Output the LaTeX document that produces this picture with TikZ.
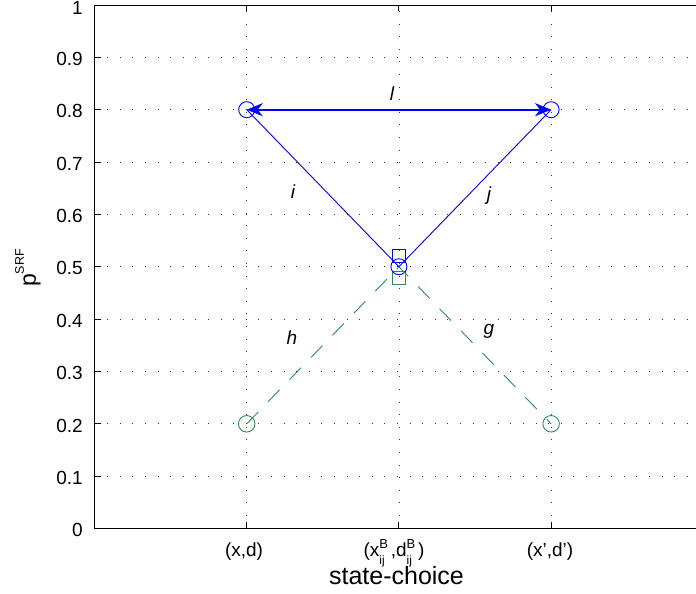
\documentclass[tikz,border=0pt]{standalone}
\usepackage{fontspec}
\setmainfont{Liberation Sans}
\usetikzlibrary{arrows.meta}
\definecolor{mblue}{rgb}{0,0,1}
\definecolor{mgreen}{RGB}{46,139,87}
\newcommand\ssb{\makebox[0pt][l]{\raisebox{8.5pt}{\fontsize{13}{13}\selectfont B}}\raisebox{-7.5pt}{\fontsize{12}{12}\selectfont ij}\hspace{6pt}}
\begin{document}
\begin{tikzpicture}[x=152.2pt,y=523.5pt,
  gridline/.style={line width=0.7pt, dash pattern=on 0.9pt off 11.7pt, black!80},
  axisline/.style={line width=0.9pt, black},
  ticklab/.style={font=\fontsize{19}{22}\selectfont, inner sep=0pt},
  edgelab/.style={font=\fontsize{19}{22}\selectfont\itshape, inner sep=0pt, anchor=base},
  bline/.style={mblue, line width=0.9pt},
  barrow/.style={mblue, line width=2pt, {Stealth[length=16pt,width=13pt,inset=5pt]}-{Stealth[length=16pt,width=13pt,inset=5pt]}},
  gline/.style={mgreen, line width=0.9pt, dash pattern=on 16.5pt off 14.3pt},
  bcirc/.style={draw=mblue, line width=0.9pt, circle, minimum size=16pt, inner sep=0pt},
  gcirc/.style={draw=mgreen, line width=0.9pt, circle, minimum size=16.5pt, inner sep=0pt},
  bsq/.style={draw=mblue, line width=0.9pt, rectangle, minimum size=13.5pt, inner sep=0pt},
  gsq/.style={draw=mgreen, line width=0.9pt, rectangle, minimum size=13.5pt, inner sep=0pt}
]
\useasboundingbox (-0.62089,-0.12512) rectangle (3.95204,1.00955);
\clip (-0.62089,-0.12512) rectangle (3.95204,1.00955);
% grid
\foreach \k in {1,...,9}
  \draw[gridline] (0,\k/10) -- (4,\k/10);
\foreach \u in {1,2,3}
  \draw[gridline] (\u,0) -- (\u,1);
% axes
\draw[axisline] (4,1) -- (0,1) -- (0,0) -- (4,0);
\foreach \k in {0,...,10}
  \draw[axisline] (0,\k/10) -- ++(6pt,0);
\foreach \u in {1,2,3}{
  \draw[axisline] (\u,0) -- ++(0,6pt);
  \draw[axisline] (\u,1) -- ++(0,-6pt);
}
% y tick labels
\foreach \k/\t in {0/0,1/0.1,2/0.2,3/0.3,4/0.4,5/0.5,6/0.6,7/0.7,8/0.8,9/0.9}
  \node[ticklab, anchor=east] (yt\k) at ([xshift=-11.5pt,yshift=-1.7pt]0,\k/10) {\t};
\node[ticklab, anchor=east] (yt10) at ([xshift=-11.5pt,yshift=-3.2pt]0,1) {1};
% x tick labels
\node[ticklab, anchor=base] (xt1) at (0.9823,-0.0535) {(x,d)};
\node[ticklab, anchor=base] (xt2) at (1.9678,-0.0535) {(x\ssb,d\ssb)};
\node[ticklab, anchor=base] (xt3) at (2.9928,-0.0535) {(x',d')};
% axis labels
\node[inner sep=0pt, anchor=base, font=\fontsize{25}{28}\selectfont] (xlab) at (1.9842,-0.1079) {state-choice};
\node[rotate=90, inner sep=0pt, font=\fontsize{23}{26}\selectfont] (ylab) at (-0.4369,0.4976) {p\raisebox{12pt}{\fontsize{12.5}{13}\selectfont SRF}};
% markers
\node[gcirc] (G1) at (1,0.2) {};
\node[gcirc] (G3) at (3,0.2) {};
\node[gsq] (GS) at (2,0.479) {};
\node[bsq] (BS) at (2,0.521) {};
\node[bcirc] (B1) at (1,0.8) {};
\node[bcirc] (B3) at (3,0.8) {};
\node[bcirc] (M) at (2,0.5) {};
% connectors
\draw[gline] (G1.center) -- (M.center) -- (G3.center);
\draw[bline] (B1.center) -- (M.center) -- (B3.center);
\draw[barrow] (B1.center) -- (B3.center);
% edge labels
\node[edgelab] (ll) at (1.9547,0.8185) {l};
\node[edgelab] (li) at (1.3042,0.6298) {i};
\node[edgelab] (lj) at (2.5920,0.6268) {j};
\node[edgelab] (lh) at (1.2976,0.3509) {h};
\node[edgelab] (lg) at (2.5920,0.3715) {g};
\end{tikzpicture}
\end{document}
